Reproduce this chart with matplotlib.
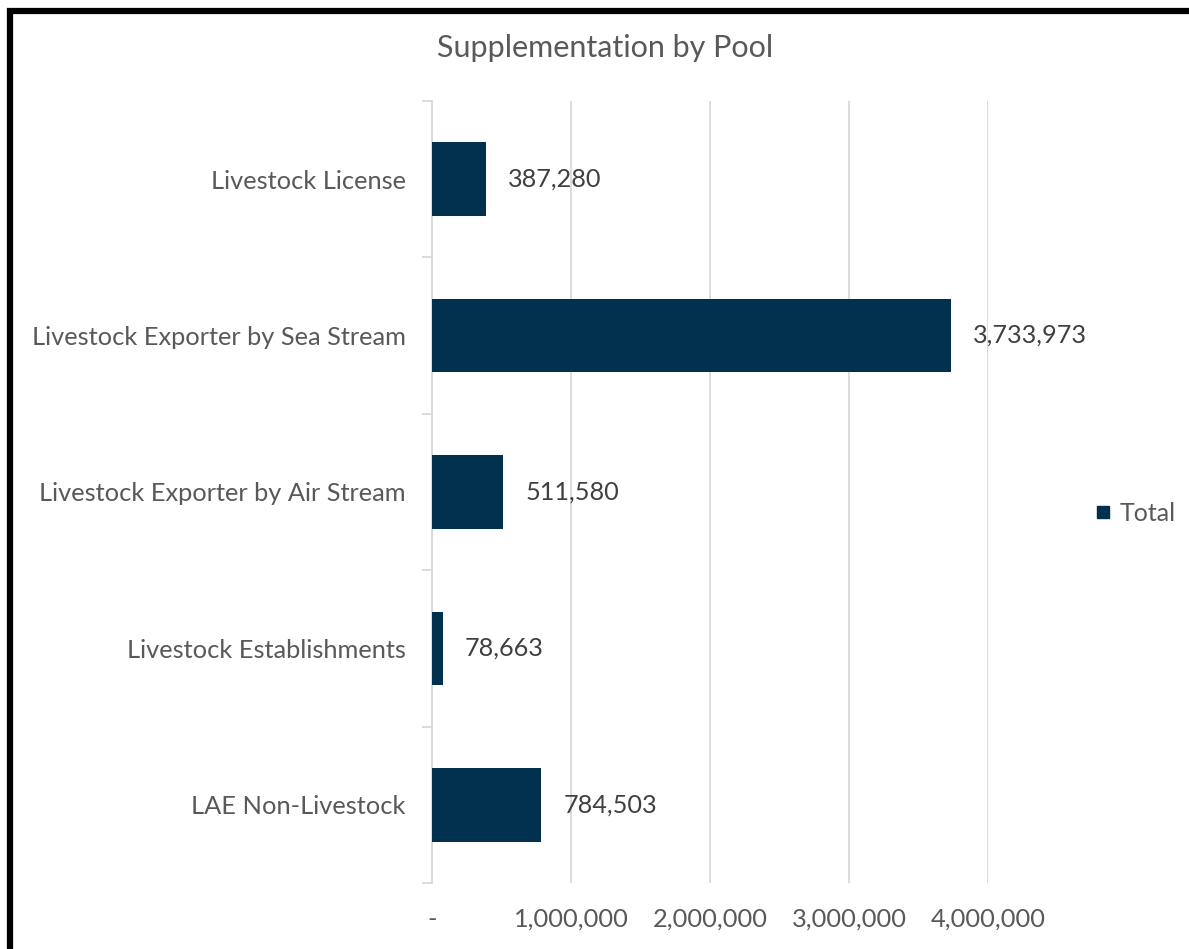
import matplotlib
matplotlib.use("Agg")
import matplotlib.pyplot as plt
from matplotlib.lines import Line2D
from matplotlib.patches import Rectangle
from matplotlib.ticker import FuncFormatter, FixedLocator

categories = [
    "Livestock License",
    "Livestock Exporter by Sea Stream",
    "Livestock Exporter by Air Stream",
    "Livestock Establishments",
    "LAE Non-Livestock",
]
totals = [387280, 3733973, 511580, 78663, 784503]
x_ticks = [0, 1000000, 2000000, 3000000, 4000000]
series_name = "Total"
title = "Supplementation by Pool"

BAR = "#02304f"
TEXT = "#595959"
GRID = "#d9d9d9"

plt.rcParams["font.family"] = ["Lato", "DejaVu Sans"]

fig = plt.figure(figsize=(11.89, 9.49), dpi=100)
ax = fig.add_axes([0.3633, 0.0696, 0.8310 - 0.3633, 0.8936 - 0.0696])

ypos = list(range(len(categories)))
ax.barh(ypos, totals, height=0.47, color=BAR, zorder=3)
ax.set_ylim(len(categories) - 0.5, -0.5)
ax.set_xlim(0, 4000000)

for y, v in zip(ypos, totals):
    ax.annotate(f"{v:,}", xy=(v, y), xytext=(16, 0), textcoords="offset points",
                ha="left", va="center", fontsize=18.2, color="#404040")

ax.xaxis.set_major_locator(FixedLocator(x_ticks))
ax.xaxis.set_major_formatter(FuncFormatter(lambda v, p: "-" if v == 0 else f"{int(v):,}"))
ax.tick_params(axis="x", length=0, labelsize=18.3, labelcolor=TEXT, pad=18)
ax.grid(axis="x", color=GRID, linewidth=1.3, zorder=0)

ax.set_yticks(ypos)
ax.set_yticklabels(categories)
ax.set_yticks([i - 0.5 for i in range(len(categories) + 1)], minor=True)
ax.tick_params(axis="y", which="major", length=0, labelsize=18.3, labelcolor=TEXT, pad=19)
ax.tick_params(axis="y", which="minor", length=7, width=1.3, color=GRID)

for s in ["top", "right", "bottom"]:
    ax.spines[s].set_visible(False)
ax.spines["left"].set_color(GRID)
ax.spines["left"].set_linewidth(1.3)

fig.text(0.509, 0.949, title, ha="center", va="center", fontsize=22, color=TEXT)

handle = Line2D([], [], marker="s", linestyle="none", color=BAR, markersize=8.5)
fig.legend([handle], [series_name], loc="center left", bbox_to_anchor=(0.909, 0.459),
           frameon=False, fontsize=18, labelcolor=TEXT, handletextpad=0.15,
           borderaxespad=0, handlelength=1)

# heavy outer frame
fig.patches.append(Rectangle((0.0088, -0.05), 1.1, 0.9879 + 0.05, transform=fig.transFigure,
                             fill=False, edgecolor="black", linewidth=4.5))

fig.savefig("out.png", dpi=100)
